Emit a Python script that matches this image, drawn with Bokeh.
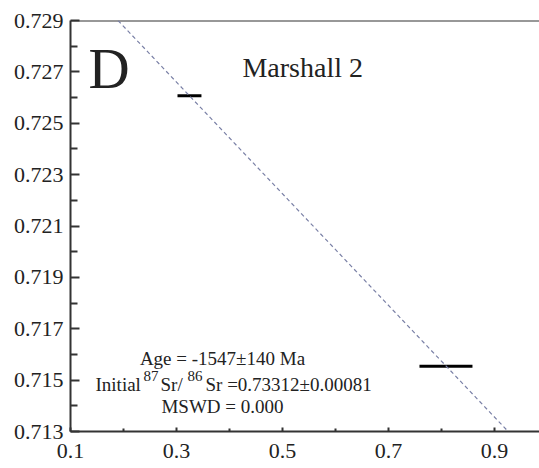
from bokeh.plotting import figure
from bokeh.models import (Range1d, FixedTicker, PrintfTickFormatter, Slope, Span, Label)
from bokeh.embed import file_html
from bokeh.resources import INLINE

# ---- data ----
sample_x = [0.3245, 0.8085]
sample_y = [0.72607, 0.71554]
sample_xerr = [0.0226, 0.050]

iso_intercept = 0.73312
iso_slope = -0.02173   # exp(lambda*t)-1 for t = -1547 Ma

x_ticks = [0.1, 0.3, 0.5, 0.7, 0.9]
x_minor = [0.2, 0.4, 0.6, 0.8]
y_ticks = [0.713, 0.715, 0.717, 0.719, 0.721, 0.723, 0.725, 0.727, 0.729]
y_minor = [0.714, 0.716, 0.718, 0.720, 0.722, 0.724, 0.726, 0.728]

panel_letter = "D"
title_text = "Marshall 2"
age_text = "Age = -1547±140 Ma"
init_parts = ["Initial ", "87", "Sr/", "86", "Sr =0.73312±0.00081"]
mswd_text = "MSWD = 0.000"

FONT = "Liberation Serif"
TXT = "#222222"
AX = "#333333"

p = figure(width=539, height=468, output_backend="svg", toolbar_location=None,
           x_range=Range1d(0.1, 0.985), y_range=Range1d(0.713, 0.729),
           min_border_left=70, min_border_right=0, min_border_top=20,
           min_border_bottom=37)
p.outline_line_color = None
p.xgrid.grid_line_color = None
p.ygrid.grid_line_color = None
p.background_fill_color = "white"
p.border_fill_color = "white"

for ax, ticks, minor, fmt in ((p.xaxis[0], x_ticks, x_minor, "%.1f"),
                              (p.yaxis[0], y_ticks, y_minor, "%.3f")):
    ax.ticker = FixedTicker(ticks=ticks, minor_ticks=minor)
    ax.formatter = PrintfTickFormatter(format=fmt)
    ax.axis_line_color = AX
    ax.axis_line_width = 2
    ax.major_tick_line_color = AX
    ax.minor_tick_line_color = AX
    ax.major_tick_line_width = 2
    ax.minor_tick_line_width = 2
    ax.major_tick_out = 0
    ax.minor_tick_out = 0
    ax.major_label_text_font = FONT
    ax.major_label_text_font_size = "22px"
    ax.major_label_text_color = TXT

p.xaxis[0].major_tick_in = 4
p.xaxis[0].minor_tick_in = 3
p.xaxis[0].major_label_standoff = 12
p.yaxis[0].major_tick_in = 9
p.yaxis[0].minor_tick_in = 7
p.yaxis[0].major_label_standoff = 7

p.add_layout(Span(location=0.729, dimension="width", line_color=AX, line_width=2))

# isochron line
p.add_layout(Slope(gradient=iso_slope, y_intercept=iso_intercept,
                   line_color="#7a80a6", line_width=1.2, line_dash="4 3"))

# error bars
x0 = [x - e for x, e in zip(sample_x, sample_xerr)]
x1 = [x + e for x, e in zip(sample_x, sample_xerr)]
p.segment(x0=x0, y0=sample_y, x1=x1, y1=sample_y, line_color="black", line_width=3)

def lab(x, y, t, size, align="left"):
    p.add_layout(Label(x=x, y=y, text=t, text_font=FONT, text_font_size=size,
                       text_color=TXT, text_align=align, text_baseline="alphabetic"))

lab(0.134, 0.72713, panel_letter, "57px")
lab(0.4245, 0.72717, title_text, "28px")
lab(0.3868, 0.71585, age_text, "19px", "center")
xs = [0.14717, 0.23774, 0.26981, 0.32075, 0.35472]
for i, (xx, t) in enumerate(zip(xs, init_parts)):
    sup = i in (1, 3)
    lab(xx, 0.715148 if sup else 0.714835, t, "15px" if sup else "19px")
lab(0.3868, 0.713976, mswd_text, "19px", "center")

open("out.html", "w").write(file_html(p, INLINE))
